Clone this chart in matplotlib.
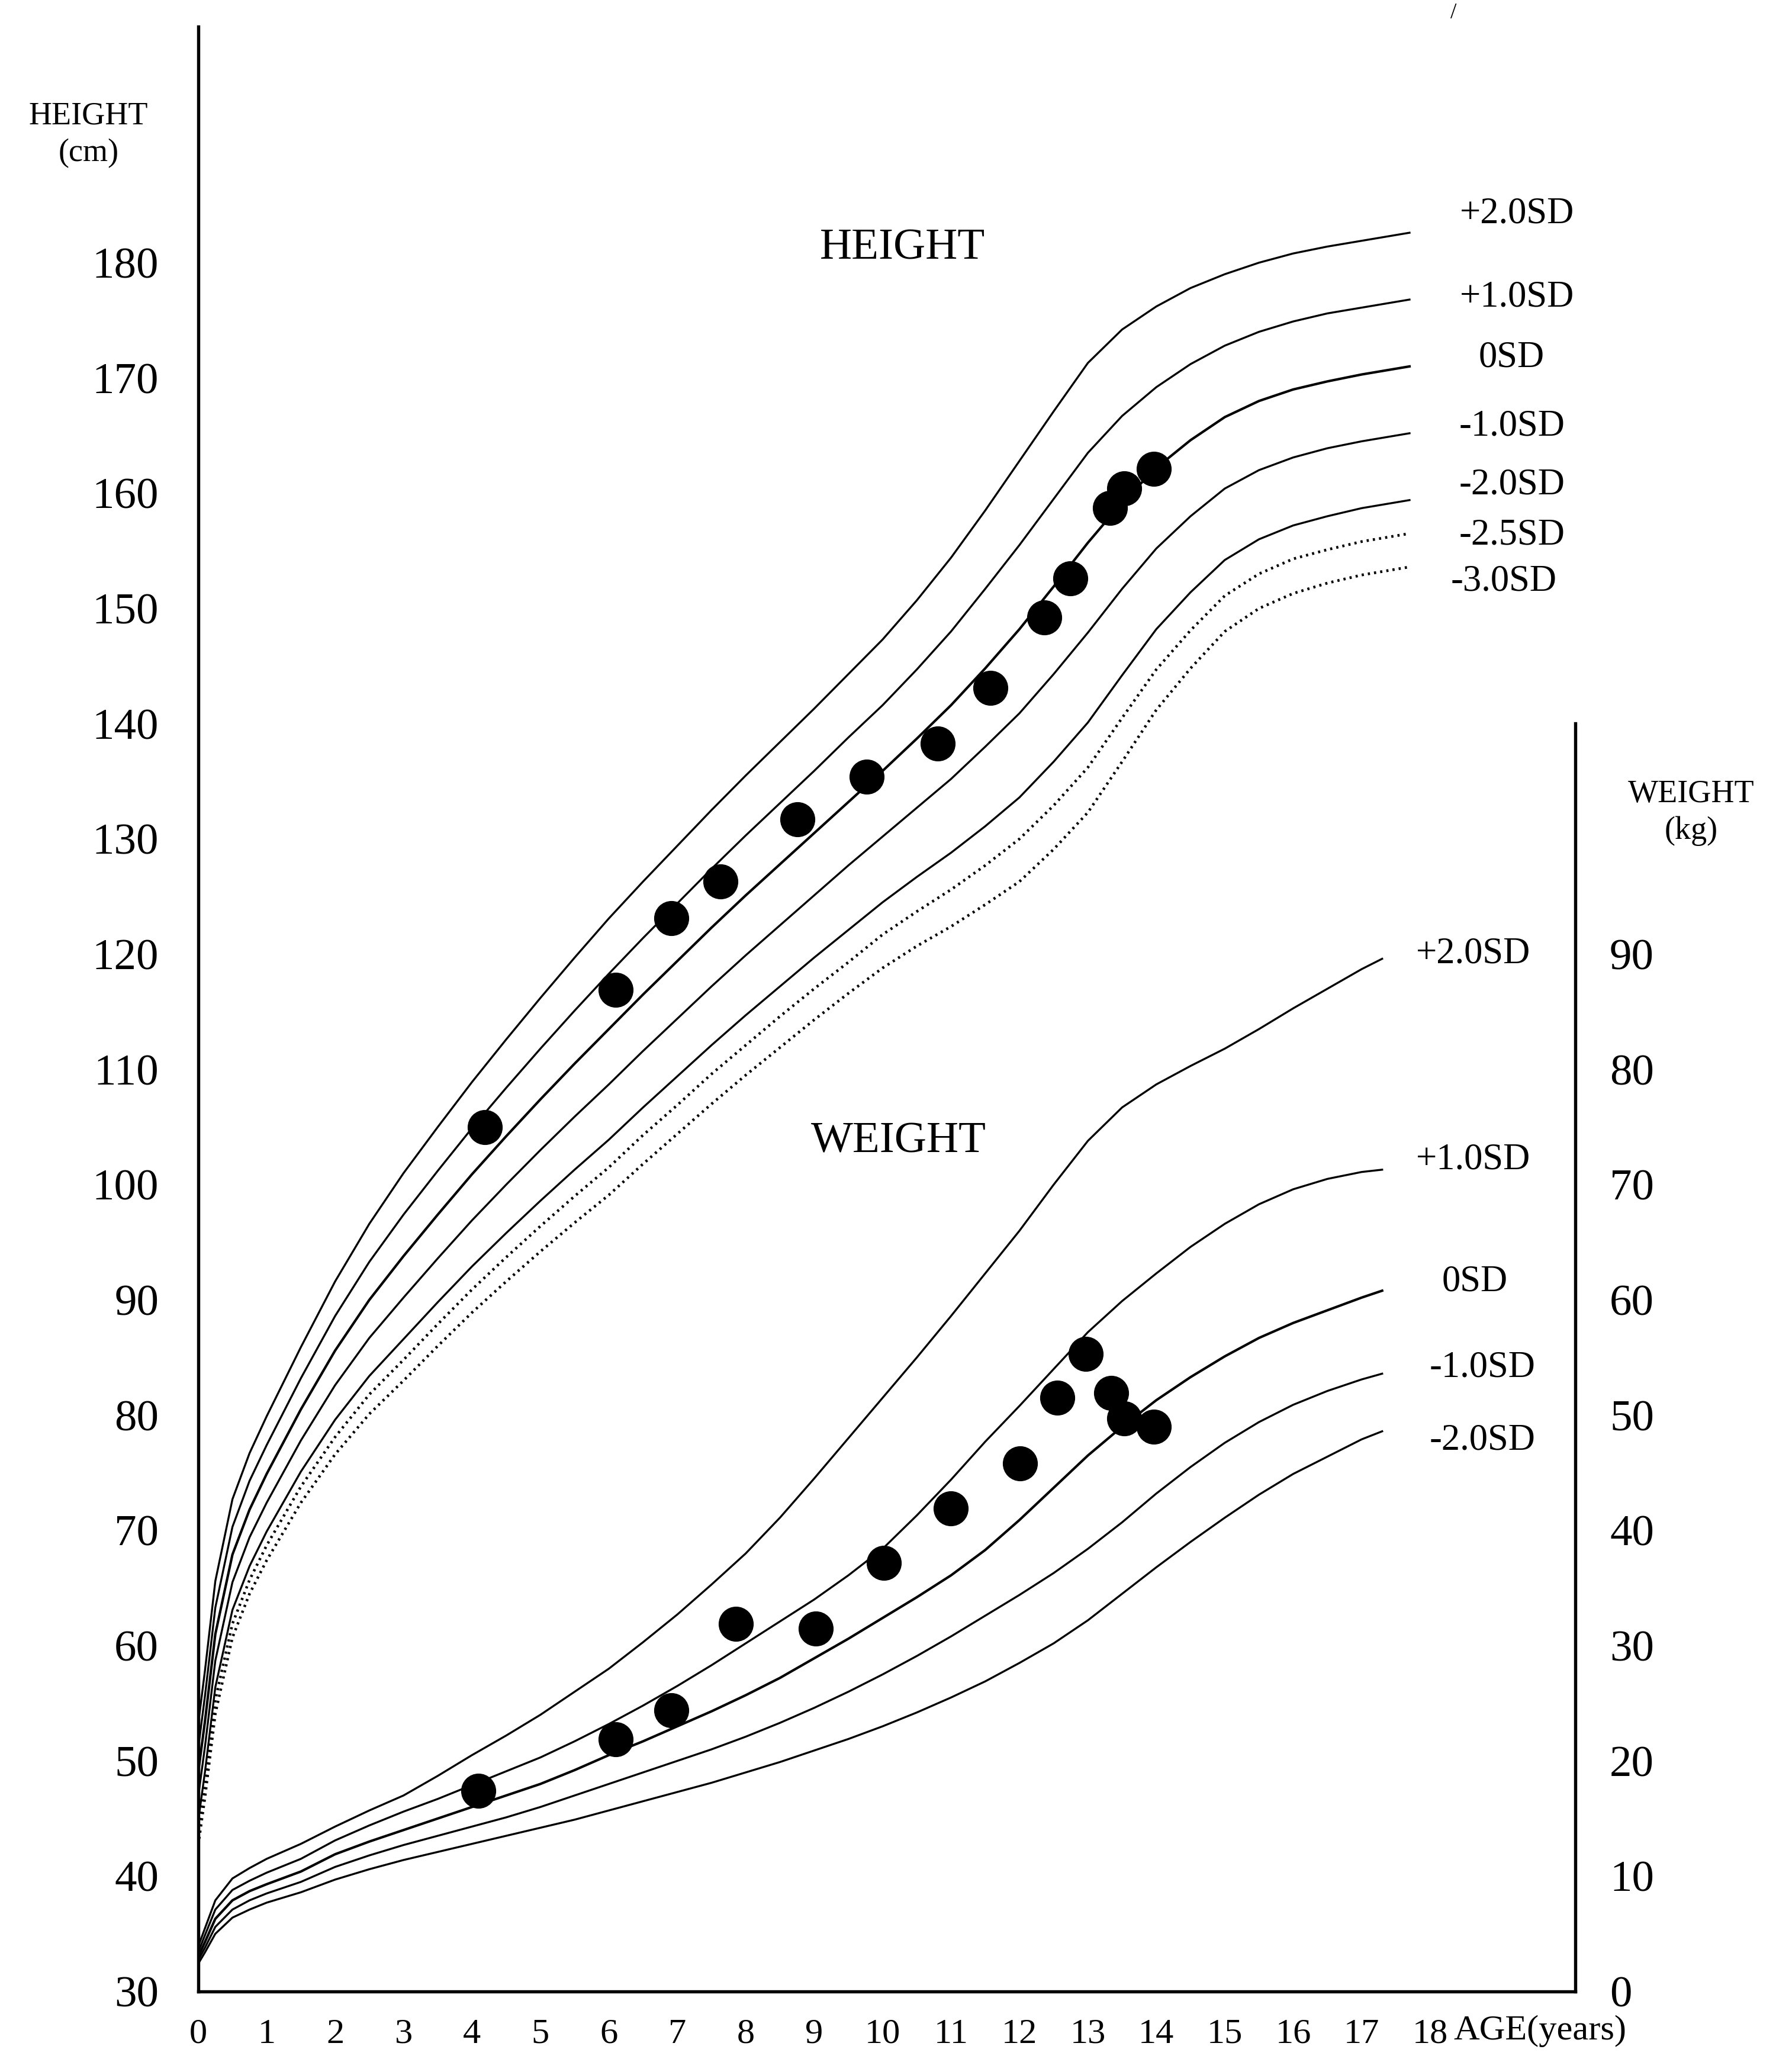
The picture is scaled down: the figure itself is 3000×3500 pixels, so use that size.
import numpy as np
import matplotlib
matplotlib.use('Agg')
import matplotlib.pyplot as plt

plt.rcParams['font.family'] = ['Liberation Serif', 'DejaVu Serif']

# ---- reference curves: height (cm) ----
h_age = [0, 0.1, 0.25, 0.5, 0.75, 1, 1.5, 2, 2.5, 3, 3.5, 4, 4.5, 5, 5.5,
         6, 6.5, 7, 7.5, 8, 8.5, 9, 9.5, 10, 10.5, 11, 11.5, 12, 12.5, 13,
         13.5, 14, 14.5, 15, 15.5, 16, 16.5, 17, 17.5, 17.7]
h_p2 = [53.2, 57.9, 65.6, 72.7, 76.7, 79.9, 85.9, 91.6, 96.6, 101.0, 105.0,
        108.9, 112.6, 116.2, 119.7, 123.1, 126.3, 129.4, 132.5, 135.5, 138.4,
        141.3, 144.3, 147.3, 150.7, 154.4, 158.5, 162.8, 167.1, 171.3, 174.2,
        176.2, 177.8, 179.0, 180.0, 180.8, 181.4, 181.9, 182.4, 182.6]
h_p1 = [51.1, 55.7, 63.3, 70.3, 74.3, 77.4, 83.2, 88.6, 93.3, 97.4, 101.2,
        104.9, 108.4, 111.8, 115.1, 118.3, 121.4, 124.4, 127.4, 130.3, 133.1,
        135.9, 138.8, 141.6, 144.7, 148.0, 151.7, 155.5, 159.5, 163.5, 166.7,
        169.2, 171.2, 172.8, 174.0, 174.9, 175.6, 176.1, 176.6, 176.8]
h_0 = [49.0, 53.5, 61.0, 67.9, 71.8, 74.9, 80.5, 85.6, 90.0, 93.8, 97.4,
       100.9, 104.2, 107.4, 110.5, 113.5, 116.5, 119.4, 122.3, 125.1, 127.8,
       130.5, 133.2, 135.9, 138.7, 141.6, 144.8, 148.2, 151.9, 155.7, 159.2,
       162.2, 164.6, 166.6, 168.0, 169.0, 169.7, 170.3, 170.8, 171.0]
h_m1 = [46.9, 51.3, 58.7, 65.5, 69.4, 72.4, 77.8, 82.6, 86.7, 90.2, 93.6,
        96.9, 100.0, 103.0, 105.9, 108.7, 111.6, 114.4, 117.2, 119.9, 122.5,
        125.1, 127.7, 130.2, 132.7, 135.2, 138.0, 140.9, 144.3, 147.9, 151.7,
        155.2, 158.0, 160.4, 162.0, 163.1, 163.9, 164.5, 165.0, 165.2]
h_m2 = [44.8, 49.1, 56.4, 63.1, 66.9, 69.9, 75.1, 79.6, 83.4, 86.6, 89.8,
        92.9, 95.8, 98.6, 101.3, 103.9, 106.7, 109.4, 112.1, 114.7, 117.2,
        119.7, 122.1, 124.5, 126.7, 128.8, 131.1, 133.6, 136.7, 140.1, 144.2,
        148.2, 151.4, 154.2, 156.0, 157.2, 158.0, 158.7, 159.2, 159.4]
h_m25 = [43.8, 48.0, 55.3, 61.9, 65.7, 68.7, 73.8, 78.1, 81.8, 84.8, 87.9,
         90.9, 93.7, 96.4, 99.0, 101.5, 104.3, 106.9, 109.6, 112.1, 114.6,
         117.0, 119.3, 121.7, 123.7, 125.6, 127.7, 130.0, 132.9, 136.2, 140.5,
         144.7, 148.1, 151.1, 153.0, 154.3, 155.1, 155.8, 156.3, 156.5]
h_m3 = [42.7, 46.9, 54.1, 60.7, 64.5, 67.4, 72.4, 76.6, 80.1, 83.0, 86.0,
        88.9, 91.6, 94.2, 96.7, 99.1, 101.8, 104.4, 107.0, 109.5, 111.9,
        114.3, 116.6, 118.8, 120.7, 122.4, 124.3, 126.3, 129.1, 132.3, 136.7,
        141.2, 144.8, 148.0, 150.0, 151.3, 152.2, 152.9, 153.4, 153.6]

# ---- reference curves: weight (kg) ----
w_age = [0, 0.1, 0.25, 0.5, 0.75, 1, 1.5, 2, 2.5, 3, 3.5, 4, 4.5, 5, 5.5,
         6, 6.5, 7, 7.5, 8, 8.5, 9, 9.5, 10, 10.5, 11, 11.5, 12, 12.5, 13,
         13.5, 14, 14.5, 15, 15.5, 16, 16.5, 17, 17.3]
w_p2 = [3.9, 5.5, 7.9, 9.8, 10.7, 11.5, 12.8, 14.3, 15.7, 17.0, 18.7, 20.5,
        22.2, 24.0, 26.0, 28.0, 30.3, 32.7, 35.3, 38.0, 41.1, 44.5, 48.0,
        51.5, 55.0, 58.6, 62.3, 66.0, 70.0, 73.8, 76.7, 78.7, 80.3, 81.8,
        83.5, 85.3, 87.0, 88.7, 89.6]
w_p1 = [3.4, 4.9, 7.1, 8.8, 9.6, 10.3, 11.5, 13.1, 14.4, 15.6, 16.7, 17.9,
        19.1, 20.3, 21.7, 23.2, 24.8, 26.5, 28.3, 30.2, 32.1, 34.0, 36.1,
        38.4, 41.3, 44.4, 47.7, 50.8, 54.0, 57.2, 59.9, 62.3, 64.6, 66.6,
        68.3, 69.6, 70.5, 71.1, 71.3]
w_0 = [3.0, 4.3, 6.3, 7.9, 8.7, 9.3, 10.4, 11.9, 13.0, 14.0, 15.0, 16.0,
       17.0, 18.0, 19.2, 20.5, 21.7, 23.0, 24.3, 25.7, 27.2, 28.9, 30.6, 32.4,
       34.2, 36.1, 38.3, 40.9, 43.7, 46.5, 49.0, 51.3, 53.3, 55.1, 56.7, 58.0,
       59.1, 60.2, 60.8]
w_m1 = [2.7, 3.8, 5.6, 7.1, 7.9, 8.5, 9.5, 10.8, 11.8, 12.7, 13.5, 14.3,
        15.1, 16.0, 17.0, 18.0, 19.0, 20.0, 21.0, 22.1, 23.3, 24.6, 26.0,
        27.5, 29.1, 30.8, 32.6, 34.4, 36.3, 38.4, 40.7, 43.2, 45.5, 47.6,
        49.4, 50.9, 52.1, 53.1, 53.6]
w_m2 = [2.4, 3.4, 5.0, 6.4, 7.1, 7.7, 8.6, 9.7, 10.6, 11.4, 12.1, 12.8,
        13.5, 14.2, 14.9, 15.7, 16.5, 17.3, 18.1, 19.0, 19.9, 20.9, 21.9,
        23.0, 24.2, 25.5, 26.9, 28.5, 30.2, 32.2, 34.5, 36.8, 39.0, 41.1,
        43.1, 44.9, 46.4, 47.9, 48.6]

# ---- patient measurements ----
pt_h_age = [4.19, 6.10, 6.91, 7.63, 8.76, 9.77, 10.81, 11.58, 12.36, 12.74,
            13.32, 13.53, 13.96]
pt_height = [105.0, 116.9, 123.1, 126.3, 131.7, 135.4, 138.3, 143.1, 149.2,
             152.6, 158.7, 160.4, 162.1]
pt_w_age = [4.09, 6.10, 6.91, 7.86, 9.02, 10.02, 11.00, 12.01, 12.55, 12.97,
            13.34, 13.53, 13.96]
pt_weight = [17.4, 21.9, 24.4, 31.9, 31.5, 37.2, 41.9, 45.8, 51.5, 55.3,
             51.9, 49.7, 49.0]

height_ticks = list(range(30, 190, 10))
weight_ticks = list(range(0, 100, 10))
age_ticks = list(range(0, 19))
h_labels = ['+2.0SD', '+1.0SD', '0SD', '-1.0SD', '-2.0SD', '-2.5SD', '-3.0SD']
w_labels = ['+2.0SD', '+1.0SD', '0SD', '-1.0SD', '-2.0SD']

W_OFFSET = 30  # weight scale shares the frame: w kg sits where (w+30) cm sits

# ---- figure ----
W, H = 1344.0, 1568.0   # layout measured on the reference (scaled px)
fig = plt.figure(figsize=(10, 3500 / 300.0), dpi=300)
ax = fig.add_axes([150 / W, 1 - 1507 / H, (1192 - 150) / W, (1507 - 20) / H])
ax.set_xlim(0, 20.12)
ax.set_ylim(30, 200.5)

thin = 0.8
dotted = (0, (0.8, 1.5))
for vals in (h_p2, h_p1, h_m1, h_m2):
    ax.plot(h_age, vals, color='black', lw=thin)
ax.plot(h_age, h_0, color='black', lw=1.0)
for vals in (h_m25, h_m3):
    ax.plot(h_age, vals, color='black', lw=1.1, linestyle=dotted)

for vals in (w_p2, w_p1, w_m1, w_m2):
    ax.plot(w_age, np.array(vals) + W_OFFSET, color='black', lw=thin)
ax.plot(w_age, np.array(w_0) + W_OFFSET, color='black', lw=1.0)

ax.plot(pt_h_age, pt_height, 'o', color='black', ms=13.2, zorder=5)
ax.plot(pt_w_age, np.array(pt_weight) + W_OFFSET, 'o', color='black',
        ms=13.2, zorder=5)

# axes frame
ax.spines['top'].set_visible(False)
for s in ('left', 'bottom', 'right'):
    ax.spines[s].set_linewidth(1.3)
ax.spines['right'].set_bounds(30, 140)

ax.set_xticks(age_ticks)
ax.set_xticklabels([str(a) for a in age_ticks], fontsize=14.5)
ax.set_yticks(height_ticks)
ax.set_yticklabels([str(h) for h in height_ticks], fontsize=18)
ax.tick_params(axis='x', length=0, pad=11)
ax.tick_params(axis='y', length=0, pad=16)

sec = ax.secondary_yaxis('right', functions=(lambda h: h - W_OFFSET,
                                             lambda w: w + W_OFFSET))
sec.set_yticks(weight_ticks)
sec.set_yticklabels([str(w) for w in weight_ticks], fontsize=18)
sec.tick_params(length=0, pad=14)
sec.spines['right'].set_visible(False)

# texts
fig.text(67 / W, 1 - 102 / H, 'HEIGHT\n(cm)', ha='center', va='center',
         fontsize=13, linespacing=1.3)
fig.text(1280 / W, 1 - 615 / H, 'WEIGHT\n(kg)', ha='center', va='center',
         fontsize=13, linespacing=1.3)
fig.text(683 / W, 1 - 188 / H, 'HEIGHT', ha='center', va='center', fontsize=18)
fig.text(680 / W, 1 - 864 / H, 'WEIGHT', ha='center', va='center', fontsize=18)
fig.text(1100 / W, 1 - 1537 / H, 'AGE(years)', ha='left', va='center',
         fontsize=14.5)
fig.text(1100 / W, 1 - 2 / H, '/', ha='center', va='top', fontsize=9)

h_lab_x = [1148, 1148, 1144, 1144, 1144, 1144, 1138]
h_lab_y = [162, 225, 271, 323, 367, 405, 440]
for lab, x, y in zip(h_labels, h_lab_x, h_lab_y):
    fig.text(x / W, 1 - y / H, lab, ha='center', va='center', fontsize=15)

w_lab_x = [1115, 1115, 1116, 1122, 1122]
w_lab_y = [722, 878, 970, 1035, 1090]
for lab, x, y in zip(w_labels, w_lab_x, w_lab_y):
    fig.text(x / W, 1 - y / H, lab, ha='center', va='center', fontsize=15)

fig.savefig('out.png', dpi=300, facecolor='white')
